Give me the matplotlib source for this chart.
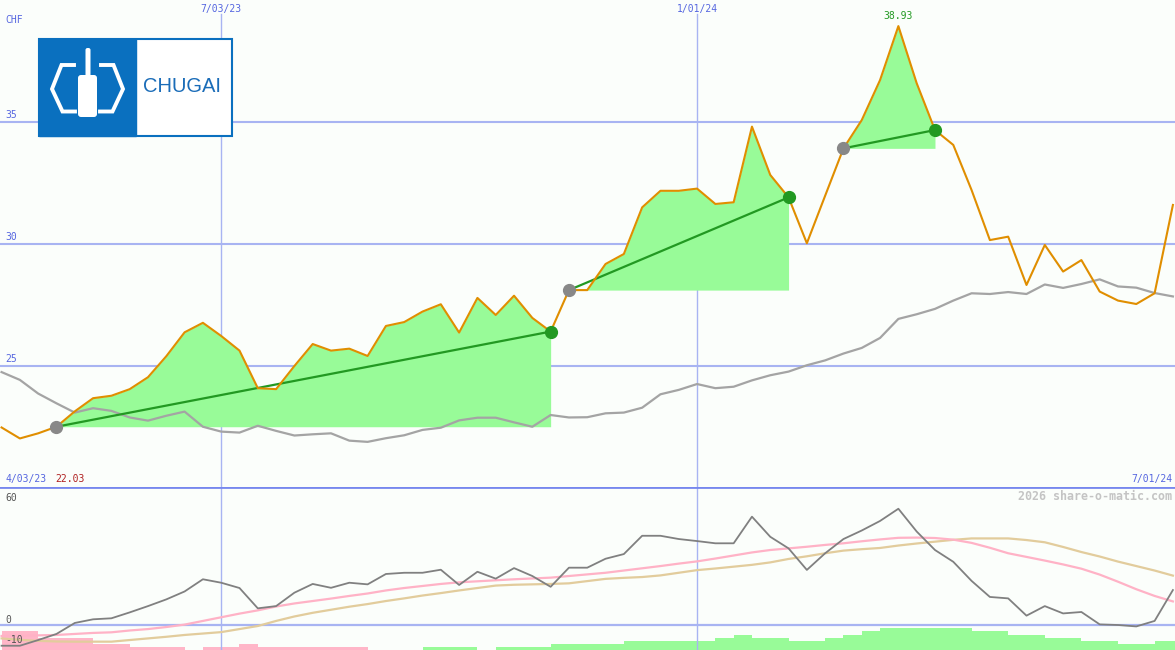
import numpy as np
import pandas as pd
import matplotlib
matplotlib.use('Agg')
import matplotlib.pyplot as plt
import matplotlib.dates as mdates
import matplotlib.transforms as mtransforms
from matplotlib.patches import Rectangle, FancyBboxPatch

# weekly closes, CHF
weeks = pd.date_range('2023-04-10', periods=65, freq='7D')
price = [22.48, 22.03, 22.24, 22.51, 23.14, 23.68, 23.78, 24.05, 24.54, 25.40,
         26.38, 26.77, 26.23, 25.63, 24.09, 24.05, 25.00, 25.90, 25.63, 25.71,
         25.41, 26.64, 26.80, 27.23, 27.53, 26.37, 27.79, 27.09, 27.88, 26.97,
         26.41, 28.11, 28.11, 29.18, 29.59, 31.50, 32.18, 32.18, 32.27, 31.64,
         31.71, 34.81, 32.83, 31.91, 30.03, 31.98, 33.92, 35.08, 36.72, 38.93,
         36.59, 34.67, 34.06, 32.21, 30.16, 30.30, 28.32, 29.96, 28.87, 29.34,
         28.05, 27.68, 27.54, 27.98, 31.60]
avg = [24.75, 24.43, 23.87, 23.47, 23.09, 23.27, 23.16, 22.89, 22.76, 22.96,
       23.13, 22.51, 22.31, 22.27, 22.55, 22.34, 22.15, 22.20, 22.24, 21.94,
       21.89, 22.04, 22.16, 22.38, 22.47, 22.77, 22.88, 22.88, 22.69, 22.51,
       22.99, 22.89, 22.90, 23.06, 23.09, 23.29, 23.84, 24.02, 24.26, 24.09,
       24.15, 24.41, 24.62, 24.77, 25.03, 25.23, 25.51, 25.74, 26.15, 26.93,
       27.12, 27.34, 27.68, 27.98, 27.95, 28.03, 27.95, 28.34, 28.20, 28.36,
       28.55, 28.26, 28.21, 27.99, 27.85]
buys = [3, 31, 46]
sells = [30, 43, 51]

# lower panel
osc = [-10.2, -10.2, -7.4, -4.4, 1.0, 2.8, 3.3, 6.2, 9.3, 12.6,
       16.5, 22.5, 20.8, 18.2, 8.2, 9.3, 15.9, 20.2, 18.3, 20.8,
       20.0, 25.1, 25.7, 25.7, 27.2, 19.7, 26.2, 22.8, 28.0, 24.1,
       18.8, 28.2, 28.2, 32.6, 34.9, 43.9, 43.9, 42.3, 41.3, 40.2,
       40.2, 53.3, 43.4, 37.7, 27.1, 35.3, 42.3, 46.5, 51.2, 57.2,
       46.0, 36.9, 31.1, 21.7, 13.8, 13.1, 4.6, 9.3, 5.7, 6.4,
       0.3, 0.0, -0.7, 2.0, 17.2]
osc_fast = [-5.4, -5.3, -5.1, -4.9, -4.4, -3.9, -3.6, -2.7, -2.0, -1.0,
            0.2, 2.0, 3.8, 5.6, 7.2, 9.1, 10.6, 11.8, 13.0, 14.3,
            15.5, 17.0, 18.2, 19.2, 20.2, 21.0, 21.5, 22.0, 22.5, 22.9,
            23.3, 24.1, 24.9, 25.7, 26.8, 27.9, 29.0, 30.2, 31.3, 32.7,
            34.2, 35.7, 36.9, 37.7, 38.5, 39.4, 40.2, 41.2, 42.1, 42.9,
            43.0, 42.8, 42.0, 40.4, 38.0, 35.3, 33.5, 31.7, 29.8, 27.7,
            24.8, 21.3, 17.6, 14.3, 11.6]
osc_slow = [-6.6, -7.3, -7.8, -8.1, -8.2, -8.2, -8.2, -7.4, -6.6, -5.8,
            -4.9, -4.2, -3.5, -2.0, -0.5, 2.0, 4.2, 6.0, 7.5, 9.0,
            10.3, 11.8, 13.1, 14.5, 15.7, 17.0, 18.2, 19.4, 19.8, 20.0,
            20.2, 20.5, 21.6, 22.7, 23.2, 23.6, 24.4, 25.7, 27.0, 27.8,
            28.7, 29.6, 30.8, 32.5, 33.8, 35.3, 36.6, 37.3, 37.9, 39.1,
            40.1, 41.0, 41.9, 42.6, 42.6, 42.6, 41.8, 40.7, 38.4, 35.9,
            33.7, 31.2, 29.0, 26.8, 24.3]
strength = [-6, -6, -4, -4, -4, -2, -2, -1, -1, -1,
            0, -1, -1, -2, -1, -1, -1, -1, -1, -1,
            0, 0, 0, 1, 1, 1, 0, 1, 1, 1,
            2, 2, 2, 2, 3, 3, 3, 3, 3, 4,
            5, 4, 4, 3, 3, 4, 5, 6, 7, 7,
            7, 7, 7, 6, 6, 5, 5, 4, 4, 3,
            3, 2, 2, 3, 3]

price = np.array(price)
strength = np.array(strength)

bg = '#fbfefb'
grid = '#a8b4f2'
lblue = '#5566e0'
mono = 'DejaVu Sans Mono'

fig = plt.figure(figsize=(11.75, 6.5), dpi=100, facecolor=bg)
ax = fig.add_axes([0, 163 / 650, 1, 487 / 650], facecolor=bg)
ax2 = fig.add_axes([0, 0, 1, 163 / 650], facecolor=bg, sharex=ax)

x0 = mdates.date2num(pd.Timestamp('2023-04-10')) - 0.6
x1 = mdates.date2num(pd.Timestamp('2024-07-01')) + 0.8
ax.set_xlim(x0, x1)
ax.set_ylim(20.04, 40.0)
ax2.set_ylim(-12.3, 67.9)

for a in (ax, ax2):
    a.set_xticks([])
    a.set_yticks([])
    for s in a.spines.values():
        s.set_visible(False)

# grid
for lv in [35, 30, 25]:
    ax.axhline(lv, color=grid, lw=1.5, zorder=1)
for d in ['2023-07-03', '2024-01-01']:
    ax.axvline(pd.Timestamp(d), ymax=1 - 14 / 487, color=grid, lw=1, zorder=1)
    ax2.axvline(pd.Timestamp(d), color=grid, lw=1, zorder=1)
ax2.axhline(0, color=grid, lw=1.6, zorder=1)
ax2.axhline(67.9, color='#7788ee', lw=2, zorder=6)

# main panel
for b, s in zip(buys, sells):
    seg = slice(b, s + 1)
    ax.fill_between(weeks[seg], price[seg], price[b], where=price[seg] >= price[b],
                    interpolate=True, color='#98fb98', lw=0, zorder=2)
ax.plot(weeks, avg, color='#a4a4a4', lw=1.6, zorder=3)
for b, s in zip(buys, sells):
    ax.plot([weeks[b], weeks[s]], [price[b], price[s]], color='#229922', lw=1.6, zorder=4)
ax.plot(weeks, price, color='#e08e00', lw=1.5, zorder=5)
ax.plot(weeks[buys], price[buys], 'o', color='#888888', ms=8.5, zorder=6)
ax.plot(weeks[sells], price[sells], 'o', color='#229922', ms=8.5, zorder=6)

top = int(np.argmax(price))
ax.annotate(f'{price[top]:.2f}', (weeks[top], price[top]), xytext=(0, 4),
            textcoords='offset points', ha='center', va='bottom',
            color='#229922', fontsize=7, family=mono)

ytr = mtransforms.offset_copy(ax.get_yaxis_transform(), fig=fig, x=0, y=2, units='dots')
for lv in [35, 30, 25]:
    ax.text(5 / 1175, lv, str(lv), transform=ytr, color=lblue, fontsize=7,
            family=mono, va='bottom', ha='left')
ax.text(5 / 1175, 1 - 20 / 487, 'CHF', transform=ax.transAxes, color=lblue,
        fontsize=7, family=mono, va='center')
for d, t in [('2023-07-03', '7/03/23'), ('2024-01-01', '1/01/24')]:
    ax.text(pd.Timestamp(d), 1 - 9 / 487, t, transform=ax.get_xaxis_transform(),
            color=lblue, fontsize=7, family=mono, ha='center', va='center')
ax.text(5 / 1175, 8 / 487, '4/03/23', transform=ax.transAxes, color=lblue,
        fontsize=7, family=mono, va='center')
ax.text(55 / 1175, 8 / 487, f'{price.min():.2f}', transform=ax.transAxes,
        color='#b02020', fontsize=7, family=mono, va='center')
ax.text(1 - 3 / 1175, 8 / 487, '7/01/24', transform=ax.transAxes, color=lblue,
        fontsize=7, family=mono, va='center', ha='right')

# lower panel
axb = ax2.twinx()
axb.set_ylim(0, 52.6)
axb.set_yticks([])
for s in axb.spines.values():
    s.set_visible(False)
axb.bar(weeks, np.abs(strength), width=7, align='edge',
        color=np.where(strength < 0, '#ffb6c8', '#98fb98'), lw=0, zorder=1)
axb.set_zorder(0)
ax2.set_zorder(1)
ax2.patch.set_visible(False)
axb.patch.set_visible(True)
axb.patch.set_facecolor(bg)
ax2.plot(weeks, osc_slow, color='#e2cc9c', lw=1.6, zorder=3)
ax2.plot(weeks, osc_fast, color='#ffb2c6', lw=1.6, zorder=3)
ax2.plot(weeks, osc, color='#808080', lw=1.3, zorder=4)

for lv, t in [(60, '60'), (0, '0'), (-10, '-10')]:
    ax2.text(5 / 1175, lv, t, transform=ax2.get_yaxis_transform(), color='#555555',
             fontsize=7, family=mono, va='bottom', ha='left')
ax2.text(1 - 3 / 1175, 1 - 9 / 163, '2026 share-o-matic.com', transform=ax2.transAxes,
         color='#c4c4c4', fontsize=8.4, family=mono, ha='right', va='center',
         fontweight='bold')

# logo
lg = fig.add_axes([0, 0, 1, 1])
lg.set_xlim(0, 1175)
lg.set_ylim(650, 0)
lg.axis('off')
blue = '#0a70bf'
lg.add_patch(Rectangle((38.5, 38.5), 193, 97, fc='white', ec=blue, lw=1.5))
lg.add_patch(Rectangle((38.5, 38.5), 97.5, 97, fc=blue, ec=blue, lw=1))
lg.plot([74, 61.5, 52, 62.5, 75], [65, 65, 89, 111.5, 111.5], color='white', lw=2.8,
        solid_joinstyle='miter')
lg.plot([101, 113.5, 123, 112.5, 100], [65, 65, 89, 111.5, 111.5], color='white', lw=2.8,
        solid_joinstyle='miter')
lg.add_patch(FancyBboxPatch((85.5, 48), 5, 30, boxstyle='round,pad=0,rounding_size=2',
                            fc='white', ec='none'))
lg.add_patch(FancyBboxPatch((78, 75), 19, 42, boxstyle='round,pad=0,rounding_size=3',
                            fc='white', ec='none'))
lg.text(182, 87, 'CHUGAI', color='#1a6cb8', fontsize=14.5, family='Liberation Sans',
        ha='center', va='center')

fig.savefig('out.png', dpi=100, facecolor=bg)
